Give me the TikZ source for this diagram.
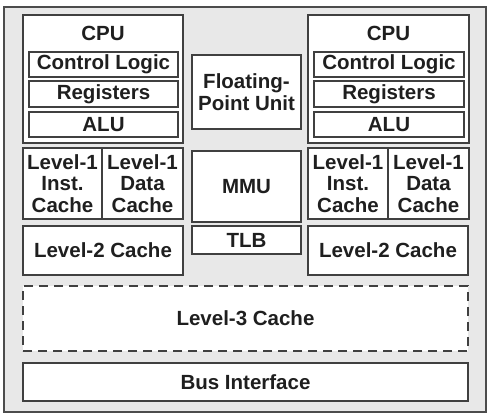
\documentclass[tikz,border=0pt]{standalone}
\usepackage{fontspec}
\setmainfont{Liberation Sans}
\begin{document}
\begin{tikzpicture}[x=1pt,y=-1pt,
  box/.style={draw=black!75, line width=1.3pt, fill=white, inner sep=0pt, anchor=center,
    font=\fontsize{20.5}{21.7}\selectfont\bfseries, text=black!88, align=center},
  lbl/.style={inner sep=0pt, font=\fontsize{20.5}{21.7}\selectfont\bfseries, text=black!88, align=center}]
\useasboundingbox (0,0) rectangle (495,418);
\node[draw=black!70, line width=1.3pt, fill=black!9, minimum width=482pt, minimum height=405pt, inner sep=0pt] (chip) at (245,209.5) {};
% left CPU
\node[box, minimum width=160pt, minimum height=128pt] (cpuL) at (103,79) {};
\node[lbl] (cpuLt) at (103,33) {CPU};
\node[box, minimum width=149pt, minimum height=25pt] (ctlL) at (103.5,64.5) {Control Logic};
\node[box, minimum width=149pt, minimum height=26pt] (regL) at (103.5,94) {Registers};
\node[box, minimum width=149pt, minimum height=25pt] (aluL) at (103.5,124.5) {ALU};
\node[box, minimum width=79pt, minimum height=71pt] (l1iL) at (62.5,183.5) {Level-1\\Inst.\\Cache};
\node[box, minimum width=81pt, minimum height=71pt] (l1dL) at (142.5,183.5) {Level-1\\Data\\Cache};
\node[box, minimum width=160pt, minimum height=49pt] (l2L) at (103,250.5) {Level-2 Cache};
% middle
\node[box, minimum width=109pt, minimum height=74pt] (fpu) at (246.5,92) {Floating-\\Point Unit};
\node[box, minimum width=109pt, minimum height=71pt] (mmu) at (246.5,186.5) {MMU};
\node[box, minimum width=109pt, minimum height=28pt] (tlb) at (246.5,240) {TLB};
% right CPU
\node[box, minimum width=161pt, minimum height=128pt] (cpuR) at (388.5,79) {};
\node[lbl] (cpuRt) at (388.5,33) {CPU};
\node[box, minimum width=150pt, minimum height=25pt] (ctlR) at (389,64.5) {Control Logic};
\node[box, minimum width=150pt, minimum height=26pt] (regR) at (389,94) {Registers};
\node[box, minimum width=150pt, minimum height=25pt] (aluR) at (389,124.5) {ALU};
\node[box, minimum width=80pt, minimum height=71pt] (l1iR) at (348,183.5) {Level-1\\Inst.\\Cache};
\node[box, minimum width=81pt, minimum height=71pt] (l1dR) at (428.5,183.5) {Level-1\\Data\\Cache};
\node[box, minimum width=160pt, minimum height=49pt] (l2R) at (388,250.5) {Level-2 Cache};
% bottom
\node[box, dashed, dash pattern=on 9pt off 6pt, minimum width=445pt, minimum height=65pt] (l3) at (245.5,318.5) {Level-3 Cache};
\node[box, minimum width=445pt, minimum height=38pt] (bus) at (245.5,382) {Bus Interface};
\end{tikzpicture}
\end{document}
